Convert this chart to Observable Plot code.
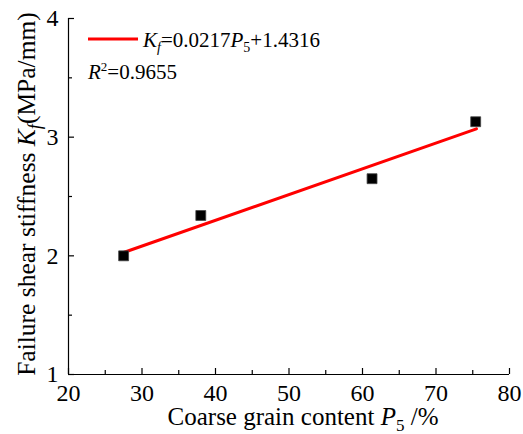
<!DOCTYPE html>
<html>
<head>
<meta charset="utf-8">
<script src="https://cdn.jsdelivr.net/npm/d3@7"></script>
<script src="https://cdn.jsdelivr.net/npm/@observablehq/plot@0.6"></script>
<style>
  html, body { margin: 0; padding: 0; background: #fff; }
  #chart svg { display: block; }
</style>
</head>
<body>
<div id="chart"></div>
<script>
// Measured data: coarse grain content P5 (%) vs failure shear stiffness Kf (MPa/mm)
const p5 = [27.5, 38.0, 61.3, 75.4];
const kf = [2.00, 2.34, 2.65, 3.13];

// Fitted line Kf = 0.0217 P5 + 1.4316, endpoints
const fitP5 = [27.5, 75.5];
const fitKf = [2.028, 3.070];

// Axis ticks
const xMajor = [20, 30, 40, 50, 60, 70, 80];
const xMinor = [25, 35, 45, 55, 65, 75];
const yMajor = [1, 2, 3, 4];
const yMinor = [1.5, 2.5, 3.5];

// Labels
const legendEq = {coef: "0.0217", intercept: "1.4316"};
const r2Value = "0.9655";

const points = p5.map((x, i) => ({x, y: kf[i]}));
const fit = fitP5.map((x, i) => ({x, y: fitKf[i]}));

const FONT = '"Liberation Serif", serif';

const plot = Plot.plot({
  width: 523,
  height: 434,
  marginLeft: 68,
  marginRight: 14,
  marginTop: 18,
  marginBottom: 60,
  style: {color: "#000", background: "#fff"},
  x: {domain: [20, 80]},
  y: {domain: [1, 4]},
  marks: [
    Plot.ruleY([1], {stroke: "#000", strokeWidth: 1.2}),
    Plot.ruleX([20], {stroke: "#000", strokeWidth: 1.2}),
    Plot.axisX({ticks: xMajor, tickSize: 0, tickPadding: 9, fontSize: 24, label: null, tickFormat: d => String(d)}),
    Plot.axisX({ticks: xMajor, tickSize: -6, text: null, label: null, strokeWidth: 1.2}),
    Plot.axisX({ticks: xMinor, tickSize: -4, text: null, label: null, strokeWidth: 1.2}),
    Plot.axisY({ticks: yMajor, tickSize: 0, tickPadding: 10, fontSize: 24, label: null, tickFormat: d => String(d)}),
    Plot.axisY({ticks: yMajor, tickSize: -6, text: null, label: null, strokeWidth: 1.2}),
    Plot.axisY({ticks: yMinor, tickSize: -4, text: null, label: null, strokeWidth: 1.2}),
    Plot.line(fit, {x: "x", y: "y", stroke: "#ff0000", strokeWidth: 3}),
    Plot.dot(points, {x: "x", y: "y", symbol: "square", r: 5.6, fill: "#000", stroke: "#444", strokeWidth: 0.8})
  ]
});

document.getElementById("chart").appendChild(plot);

const svg = d3.select(plot);
const sy = plot.scale("y");

// Tick labels drawn by Plot: serif font
svg.selectAll("text").style("font-family", FONT).style("font-size", "24px");

function addText(x, y, size, anchor, transform) {
  const t = svg.append("text")
    .attr("text-anchor", anchor)
    .attr("fill", "#000")
    .style("font-family", FONT)
    .style("font-size", size + "px");
  if (transform) t.attr("transform", transform);
  else t.attr("x", x).attr("y", y);
  return t;
}
function span(t, txt, opts = {}) {
  const s = t.append("tspan").text(txt);
  if (opts.italic) s.style("font-style", "italic");
  if (opts.size) s.style("font-size", opts.size + "px");
  if (opts.dy) s.attr("dy", opts.dy);
  return s;
}

// X axis title
const xt = addText(303, 425, 25, "middle");
span(xt, "Coarse grain content ");
span(xt, "P", {italic: true});
span(xt, "5", {size: 17, dy: 6});
span(xt, " /%", {dy: -6});

// Y axis title
const yt = addText(0, 0, 25.5, "middle", `translate(35, ${(sy.apply(1) + sy.apply(4)) / 2 - 2}) rotate(-90)`);
span(yt, "Failure shear stiffness ");
span(yt, "K", {italic: true});
span(yt, "f", {italic: true, size: 18, dy: 6});
span(yt, "(MPa/mm)", {dy: -6});

// Legend
svg.append("line")
  .attr("x1", 88).attr("x2", 138).attr("y1", 39).attr("y2", 39)
  .attr("stroke", "#ff0000").attr("stroke-width", 3);
const lg = addText(143, 47, 21, "start");
span(lg, "K", {italic: true});
span(lg, "f", {italic: true, size: 14, dy: 5});
span(lg, "=" + legendEq.coef, {dy: -5});
span(lg, "P", {italic: true});
span(lg, "5", {size: 14, dy: 5});
span(lg, "+" + legendEq.intercept, {dy: -5});

const r2 = addText(88, 79, 21, "start");
span(r2, "R", {italic: true});
span(r2, "2", {size: 13, dy: -8});
span(r2, "=" + r2Value, {dy: 8});
</script>
</body>
</html>
